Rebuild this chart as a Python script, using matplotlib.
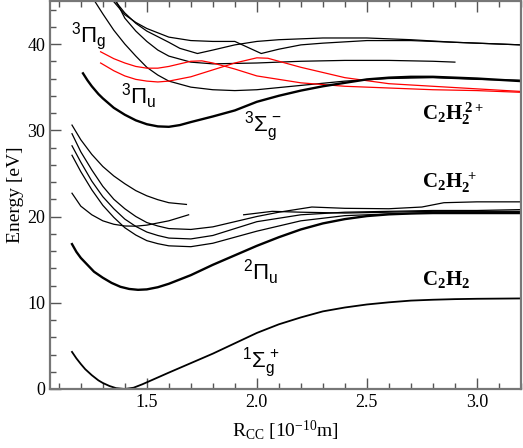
import matplotlib
matplotlib.use("Agg")
import matplotlib.pyplot as plt
from matplotlib.ticker import MultipleLocator

plt.rcParams['font.family'] = ['Liberation Serif', 'DejaVu Serif']
plt.rcParams['mathtext.fontset'] = 'custom'
plt.rcParams['mathtext.rm'] = 'Liberation Serif'
plt.rcParams['mathtext.sf'] = 'Liberation Sans'
plt.rcParams['mathtext.bf'] = 'Liberation Serif:bold'
plt.rcParams['mathtext.it'] = 'Liberation Serif:italic'

# neutral C2H2 (1Sigma_g+)
x_gs = [1.16, 1.18, 1.2, 1.22, 1.25, 1.28, 1.3, 1.33, 1.36, 1.4, 1.44, 1.48, 1.52, 1.56, 1.6, 1.7, 1.8, 1.9,
        2.0, 2.1, 2.2, 2.3, 2.4, 2.5, 2.6, 2.7, 2.8, 2.9, 3.0, 3.1, 3.2]
y_gs = [4.3, 3.55, 2.9, 2.3, 1.6, 1.0, 0.7, 0.35, 0.1, 0.0, 0.15, 0.55, 1.0, 1.45, 1.9, 3.0, 4.1, 5.3,
        6.5, 7.5, 8.3, 9.0, 9.45, 9.8, 10.05, 10.25, 10.35, 10.42, 10.46, 10.48, 10.5]

# C2H2+ ground (2Pi_u)
x_cat = [1.16, 1.18, 1.2, 1.23, 1.26, 1.3, 1.34, 1.38, 1.42, 1.46, 1.5, 1.55, 1.6, 1.7, 1.8, 1.9, 2.0, 2.1,
         2.2, 2.3, 2.4, 2.5, 2.6, 2.7, 2.8, 3.0, 3.2]
y_cat = [16.8, 15.9, 15.2, 14.4, 13.6, 12.9, 12.3, 11.85, 11.6, 11.5, 11.55, 11.8, 12.2, 13.2, 14.4, 15.5, 16.6, 17.6,
         18.5, 19.2, 19.7, 20.05, 20.25, 20.35, 20.4, 20.4, 20.4]

# C2H2+ excited states
x_ca = [1.16, 1.2, 1.25, 1.3, 1.35, 1.4, 1.45, 1.5, 1.55, 1.6, 1.68]
y_ca = [30.6, 28.9, 27.2, 25.8, 24.7, 23.8, 23.0, 22.4, 21.95, 21.6, 21.4]
x_cb = [1.16, 1.2, 1.25, 1.3, 1.35, 1.4, 1.45, 1.5, 1.55, 1.6, 1.7, 1.8, 1.9, 2.0, 2.1, 2.25, 2.4, 2.6, 2.75, 2.85, 3.0, 3.2]
y_cb = [29.6, 27.5, 25.4, 23.5, 22.0, 20.9, 20.0, 19.3, 18.9, 18.6, 18.5, 18.8, 19.4, 20.0, 20.5, 21.1, 20.95, 20.9, 21.1, 21.6, 21.7, 21.7]
x_cc = [1.16, 1.2, 1.25, 1.3, 1.35, 1.4, 1.45, 1.5, 1.55, 1.6, 1.7, 1.8, 1.9, 2.0, 2.2, 2.4, 2.6, 2.8, 3.0, 3.2]
y_cc = [28.2, 26.3, 24.1, 22.3, 20.9, 19.7, 18.85, 18.2, 17.8, 17.5, 17.4, 17.8, 18.6, 19.4, 20.2, 20.5, 20.6, 20.7, 20.7, 20.8]
x_cd = [1.16, 1.2, 1.25, 1.3, 1.35, 1.4, 1.45, 1.5, 1.55, 1.6, 1.7, 1.8, 1.9, 2.0, 2.2, 2.4, 2.6, 2.8, 3.0, 3.2]
y_cd = [27.1, 25.2, 23.1, 21.3, 19.9, 18.7, 17.85, 17.2, 16.85, 16.6, 16.5, 16.9, 17.6, 18.3, 19.5, 20.1, 20.3, 20.4, 20.4, 20.5]
x_ce = [1.16, 1.2, 1.25, 1.3, 1.35, 1.4, 1.45, 1.5, 1.6, 1.69]
y_ce = [22.7, 21.2, 20.2, 19.5, 19.1, 18.9, 18.88, 19.0, 19.5, 20.2]
x_cf = [1.94, 2.07, 2.2, 2.4, 2.6, 2.8, 3.0, 3.2]
y_cf = [20.2, 20.6, 20.5, 20.4, 20.5, 20.6, 20.6, 20.6]

# C2H2 2+ states
x_sg = [1.21, 1.23, 1.25, 1.28, 1.3, 1.35, 1.4, 1.45, 1.5, 1.55, 1.6, 1.65, 1.7, 1.8, 1.9, 2.0, 2.1, 2.2, 2.3,
        2.4, 2.5, 2.6, 2.7, 2.8, 2.9, 3.0, 3.1, 3.2]
y_sg = [36.6, 35.8, 35.1, 34.2, 33.7, 32.6, 31.8, 31.15, 30.7, 30.45, 30.4, 30.6, 30.95, 31.6, 32.3, 33.3, 34.0, 34.6, 35.1,
        35.5, 35.9, 36.1, 36.2, 36.2, 36.1, 36.0, 35.85, 35.7]
x_pu = [1.25, 1.3, 1.35, 1.4, 1.45, 1.5, 1.55, 1.6, 1.7, 1.8, 1.9, 2.0, 2.2, 2.4, 2.6, 2.8, 3.0, 3.2]
y_pu = [45.5, 43.5, 41.6, 40.0, 38.6, 37.3, 36.4, 35.7, 35.0, 34.7, 34.6, 34.7, 35.2, 35.7, 36.0, 36.1, 35.9, 35.8]
x_u1 = [1.33, 1.4, 1.45, 1.5, 1.6, 1.7, 1.8, 1.9, 2.02, 2.1, 2.2, 2.3, 2.5, 2.7, 2.9, 3.0, 3.2]
y_u1 = [45.5, 43.4, 42.5, 41.8, 40.8, 40.4, 40.3, 40.3, 38.9, 39.4, 39.9, 40.1, 40.4, 40.4, 40.2, 40.1, 39.9]
x_u2 = [1.34, 1.4, 1.45, 1.5, 1.6, 1.65, 1.73, 1.8, 1.9, 2.0, 2.1, 2.3, 2.5, 2.7, 2.9, 3.2]
y_u2 = [45.5, 43.6, 42.4, 41.5, 40.2, 39.5, 38.9, 39.3, 39.9, 40.3, 40.5, 40.7, 40.7, 40.5, 40.2, 39.9]
x_u3 = [1.35, 1.4, 1.45, 1.5, 1.55, 1.6, 1.7, 1.8, 2.0, 2.2, 2.4, 2.6, 2.8, 2.9]
y_u3 = [45.5, 43.0, 41.5, 40.3, 39.3, 38.6, 37.9, 37.7, 37.8, 38.0, 38.1, 38.1, 38.0, 37.9]
x_ra = [1.29, 1.35, 1.4, 1.45, 1.5, 1.55, 1.6, 1.7, 1.75, 1.8, 1.9, 2.0, 2.2, 2.4, 2.6, 2.8, 3.0, 3.2]
y_ra = [39.1, 38.3, 37.8, 37.4, 37.2, 37.2, 37.4, 38.0, 38.05, 37.8, 37.1, 36.3, 35.5, 35.1, 34.9, 34.7, 34.6, 34.4]
x_rb = [1.29, 1.35, 1.4, 1.45, 1.5, 1.55, 1.6, 1.7, 1.8, 1.9, 2.0, 2.05, 2.1, 2.2, 2.4, 2.6, 2.8, 3.0, 3.2]
y_rb = [37.8, 36.9, 36.3, 35.9, 35.7, 35.6, 35.7, 36.2, 37.0, 37.8, 38.4, 38.35, 38.0, 37.3, 36.1, 35.4, 35.1, 34.8, 34.5]

fig = plt.figure(figsize=(5.23, 4.48), dpi=100)
ax = fig.add_axes([0.0956, 0.1317, 0.9004, 0.8663])

thin = 0.9
thick = 1.7
for xs, ys in [(x_ca, y_ca), (x_cb, y_cb), (x_cc, y_cc), (x_cd, y_cd), (x_ce, y_ce), (x_cf, y_cf),
               (x_pu, y_pu), (x_u1, y_u1), (x_u2, y_u2), (x_u3, y_u3)]:
    ax.plot(xs, ys, color='black', lw=thin)
ax.plot(x_ra, y_ra, color='red', lw=thin)
ax.plot(x_rb, y_rb, color='red', lw=thin)
ax.plot(x_gs, y_gs, color='black', lw=1.3)
ax.plot(x_cat, y_cat, color='black', lw=thick)
ax.plot(x_sg, y_sg, color='black', lw=thick)

ax.set_xlim(1.06, 3.2)
ax.set_ylim(0, 45)
ax.xaxis.set_major_locator(MultipleLocator(0.5))
ax.xaxis.set_minor_locator(MultipleLocator(0.1))
ax.yaxis.set_major_locator(MultipleLocator(10))
ax.yaxis.set_minor_locator(MultipleLocator(2))
ax.tick_params(which='both', direction='in', top=True, right=False, labelsize=13, color='#555555')
ax.tick_params(which='major', length=8, width=1)
ax.tick_params(which='minor', length=4, width=1)
for s in ax.spines.values():
    s.set_color('#777777')
    s.set_linewidth(1.6)

ax.set_xlabel(r'R$_{\mathrm{CC}}$ [10$^{-10}$m]', fontsize=14, labelpad=6)
ax.set_ylabel('Energy [eV]', fontsize=14, labelpad=2)

sfs = 16
ax.text(1.155, 40.2, r'$\mathsf{{}^{3}\Pi_{g}}$', fontsize=sfs)
ax.text(1.383, 33.1, r'$\mathsf{{}^{3}\Pi_{u}}$', fontsize=sfs)
ax.text(1.94, 29.8, r'$\mathsf{{}^{3}\Sigma_{g}^{\,-}}$', fontsize=sfs)
ax.text(1.937, 12.6, r'$\mathsf{{}^{2}\Pi_{u}}$', fontsize=sfs)
ax.text(1.933, 2.55, r'$\mathsf{{}^{1}\Sigma_{g}^{\,+}}$', fontsize=sfs)

bfs = 15
ax.text(2.75, 31.2, r'$\mathbf{C_2H_2^{\ 2+}}$', fontsize=bfs)
ax.text(2.75, 23.3, r'$\mathbf{C_2H_2^{\ +}}$', fontsize=bfs)
ax.text(2.75, 12.05, r'$\mathbf{C_2H_2}$', fontsize=bfs)

fig.savefig('out.png', dpi=100)
